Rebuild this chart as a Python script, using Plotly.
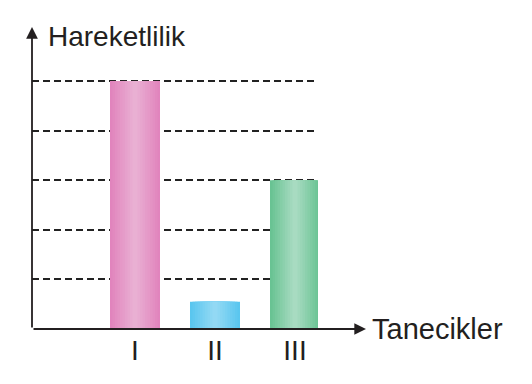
import plotly.graph_objects as go

categories = ["I", "II", "III"]
values = [5.0, 0.55, 3.0]
edge_colors = ["#e184bd", "#5ac6ef", "#69c393"]
center_colors = ["#e9b0d3", "#93d9f4", "#a8dbc1"]
grid_levels = [1, 2, 3, 4, 5]
x_title = "Tanecikler"
y_title = "Hareketlilik"

def hex2rgb(h):
    h = h.lstrip("#")
    return tuple(int(h[i:i+2], 16) for i in (0, 2, 4))

def mix(a, b, t):
    ra, rb = hex2rgb(a), hex2rgb(b)
    return "rgb(%d,%d,%d)" % tuple(round(ra[i] + (rb[i] - ra[i]) * t) for i in range(3))

xpos = list(range(len(categories)))
bar_w = 0.625
n_layers = 10
fig = go.Figure()
for k in range(n_layers):
    t = k / (n_layers - 1)
    frac = 1 - k / n_layers
    fig.add_trace(go.Bar(
        x=xpos, y=values, width=bar_w * frac,
        marker=dict(color=[mix(e, c, t) for e, c in zip(edge_colors, center_colors)], line=dict(width=0)),
        hoverinfo="skip", showlegend=False,
    ))

xr = [-1.2875, 2.2875]
unit = 49.6
ytop = 329 / unit
plot_w = 286
plot_h = 329

fig.update_layout(
    width=532, height=384, barmode="overlay",
    margin=dict(l=32, r=214, t=0, b=55),
    paper_bgcolor="white", plot_bgcolor="white",
    font=dict(family="Liberation Sans, Arial, sans-serif", color="#231f20"),
    xaxis=dict(range=xr, tickvals=xpos, ticktext=categories, showgrid=False, zeroline=False,
               showline=False, ticks="", tickfont=dict(size=28, color="#231f20"),
               ticklabelstandoff=2, fixedrange=True),
    yaxis=dict(range=[0, ytop], tickvals=grid_levels, showticklabels=False, showgrid=True,
               gridcolor="#222222", gridwidth=1.6, griddash="7px,4px", zeroline=False,
               showline=False, ticks="", fixedrange=True),
)

x_tip = (366 - 32) / 80 + xr[0]
y_tip = (329 - 27) / unit
fig.add_annotation(x=x_tip, y=0, ax=xr[0], ay=0, xref="x", yref="y", axref="x", ayref="y",
                   text="", showarrow=True, arrowhead=2, arrowsize=1.3, arrowwidth=1.8,
                   arrowcolor="#231f20", standoff=0, startstandoff=0)
fig.add_annotation(x=xr[0], y=y_tip, ax=xr[0], ay=0, xref="x", yref="y", axref="x", ayref="y",
                   text="", showarrow=True, arrowhead=2, arrowsize=1.3, arrowwidth=1.8,
                   arrowcolor="#231f20", standoff=0, startstandoff=0)
fig.add_annotation(x=(46 - 32) / plot_w, y=(329 - 37) / plot_h, xref="x domain", yref="y domain",
                   text=y_title, showarrow=False, xanchor="left", yanchor="middle",
                   font=dict(size=28, color="#231f20"))
fig.add_annotation(x=(370 - 32) / plot_w, y=(329 - 329) / plot_h, xref="x domain", yref="y domain",
                   text=x_title, showarrow=False, xanchor="left", yanchor="middle",
                   font=dict(size=29, color="#231f20"))

fig.write_html("out.html", config={"displayModeBar": False})
